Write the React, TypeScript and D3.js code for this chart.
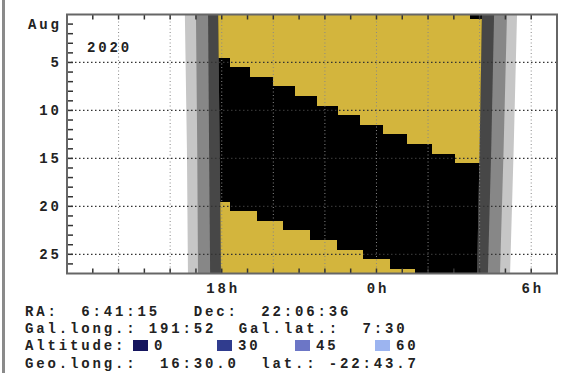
import React from "react";
import * as d3 from "d3";

// night rows, one per evening date (day 0 = 31 Jul)
const days = [0, 1, 2, 3, 4, 5, 6, 7, 8, 9, 10, 11, 12, 13, 14, 15, 16, 17, 18, 19, 20, 21, 22, 23, 24, 25, 26, 27];
// moon above horizon, hours after noon (24 = midnight), null = not up at night
const moonUpFrom = [12, 12, 12, 12, 12, 18.32, 19.1, 19.99, 20.84, 21.69, 22.51, 23.36, 24.25, 25.18, 26.15, 27.04, null, null, null, null, 12, 12, 12, 12, 12, 12, 12, 12];
const moonUpTo = [27.63, 31, 31, 31, 31, 31, 31, 31, 31, 31, 31, 31, 31, 31, 31, 31, null, null, null, null, 18.32, 19.36, 20.39, 21.42, 22.46, 23.49, 24.52, 25.49];

// twilight edges read at a few dates
const twilightDays = [0, 14, 27];
const eveningLight = [16.57, 16.65, 16.69];
const eveningMid = [17.0, 17.05, 17.08];
const eveningDark = [17.47, 17.51, 17.55];
const eveningNight = [17.86, 17.92, 17.97];
const morningNight = [28.09, 28.0, 27.9];
const morningDark = [28.56, 28.45, 28.32];
const morningMid = [29.06, 28.93, 28.79];
const morningLight = [29.45, 29.32, 29.18];

const xLabelHours = [18, 24, 30];
const xTickLabels = ["18h", "0h", "6h"];
const yLabelDays = [1, 5, 10, 15, 20, 25];
const yTickLabels = ["Aug", "5", "10", "15", "20", "25"];
const gridDays = [5, 10, 15, 20, 25];

const altitudeLevels = ["0", "30", "45", "60"];
const altitudeColors = ["#15155e", "#303c8e", "#6c76c6", "#9cb4f0"];

const infoLines = [
  "RA:  6:41:15   Dec:  22:06:36",
  "Gal.long.: 191:52  Gal.lat.:  7:30",
  "Altitude:",
  "Geo.long.:  16:30.0  lat.: -22:43.7",
];

const W = 561;
const H = 373;
const left = 67;
const right = 557;
const top = 14.5;
const bottom = 273.5;

const font = "'Liberation Mono', 'Courier New', monospace";
const ls = 2.85;

export default function App() {
  const x = d3.scaleLinear().domain([12, 31]).range([left, right]);
  const y = d3.scaleLinear().domain([0, 27]).range([top, bottom]);
  const idx = twilightDays.map((_, i) => i);

  const band = (a: number[], b: number[]) =>
    d3
      .area<number>()
      .y((i) => y(twilightDays[i]))
      .x0((i) => x(a[i]))
      .x1((i) => x(b[i]))(idx) || "";

  const textStyle: React.CSSProperties = {
    fontFamily: font,
    fontWeight: "bold",
    fontSize: 14,
    letterSpacing: ls,
    whiteSpace: "pre",
    fill: "#222",
  };

  return (
    <svg width={W} height={H} style={{ position: "absolute", left: 0, top: 0, background: "#fff" }}>
      <defs>
        <clipPath id="night">
          <path d={band(eveningNight, morningNight)} />
        </clipPath>
      </defs>
      <rect x={2} y={0} width={3} height={H} fill="#8a8a8a" />

      {/* twilight bands */}
      <path d={band(eveningLight, morningLight)} fill="#c6c6c6" />
      <path d={band(eveningMid, morningMid)} fill="#878787" />
      <path d={band(eveningDark, morningDark)} fill="#474747" />

      {/* dark night with moonlit rows */}
      <g clipPath="url(#night)">
        <path d={band(eveningNight, morningNight)} fill="#000" />
        {days.map((d, i) => {
          const a = moonUpFrom[i];
          const b = moonUpTo[i];
          if (a == null || b == null) return null;
          const y0 = Math.round(y(d - 0.5));
          const y1 = Math.round(y(d + 0.5));
          return (
            <rect
              key={d}
              x={x(a)}
              y={y0}
              width={x(b) - x(a)}
              height={y1 - y0}
              fill="#d3b53d"
              shapeRendering="crispEdges"
            />
          );
        })}
      </g>

      {/* grid */}
      {gridDays.map((d) => (
        <line key={"gy" + d} x1={left} x2={right} y1={y(d)} y2={y(d)} stroke="#333" strokeWidth={1.2} strokeDasharray="1.5,2.5" />
      ))}
      {d3.range(14, 31, 2).map((h) => (
        <line key={"gx" + h} x1={x(h)} x2={x(h)} y1={top} y2={bottom} stroke="#888" strokeWidth={1} strokeDasharray="1,2.5" />
      ))}

      {/* ticks */}
      {d3.range(13, 31).map((h) => (
        <g key={"t" + h} stroke="#333" strokeWidth={1.5}>
          <line x1={x(h)} x2={x(h)} y1={top} y2={top + 5} />
          <line x1={x(h)} x2={x(h)} y1={bottom - 5} y2={bottom} />
        </g>
      ))}
      {d3.range(1, 27).map((d) => (
        <line key={"ty" + d} x1={left} x2={left + 6} y1={y(d)} y2={y(d)} stroke="#333" strokeWidth={1.5} />
      ))}

      <rect x={left} y={top} width={right - left} height={bottom - top} fill="none" stroke="#666" strokeWidth={2} />

      {/* axis labels */}
      {yLabelDays.map((d, i) => (
        <text key={"yl" + d} x={59 + ls} y={y(d) + 5} textAnchor="end" style={textStyle}>
          {yTickLabels[i]}
        </text>
      ))}
      <text x={87} y={52} style={textStyle}>2020</text>
      {xLabelHours.map((h, i) => (
        <text key={"xl" + h} x={x(h) + ls / 2} y={293} textAnchor="middle" style={textStyle}>
          {xTickLabels[i]}
        </text>
      ))}

      {/* info block */}
      {infoLines.map((s, i) => (
        <text key={"info" + i} x={25} y={316 + i * 17.2} style={textStyle}>
          {s}
        </text>
      ))}
      {altitudeLevels.map((lv, i) => {
        const lx = [133, 217, 295, 375][i];
        return (
          <g key={"alt" + lv}>
            <rect x={lx} y={340} width={15} height={11} fill={altitudeColors[i]} />
            <text x={lx + 21} y={350.4} style={textStyle}>
              {lv}
            </text>
          </g>
        );
      })}
    </svg>
  );
}
